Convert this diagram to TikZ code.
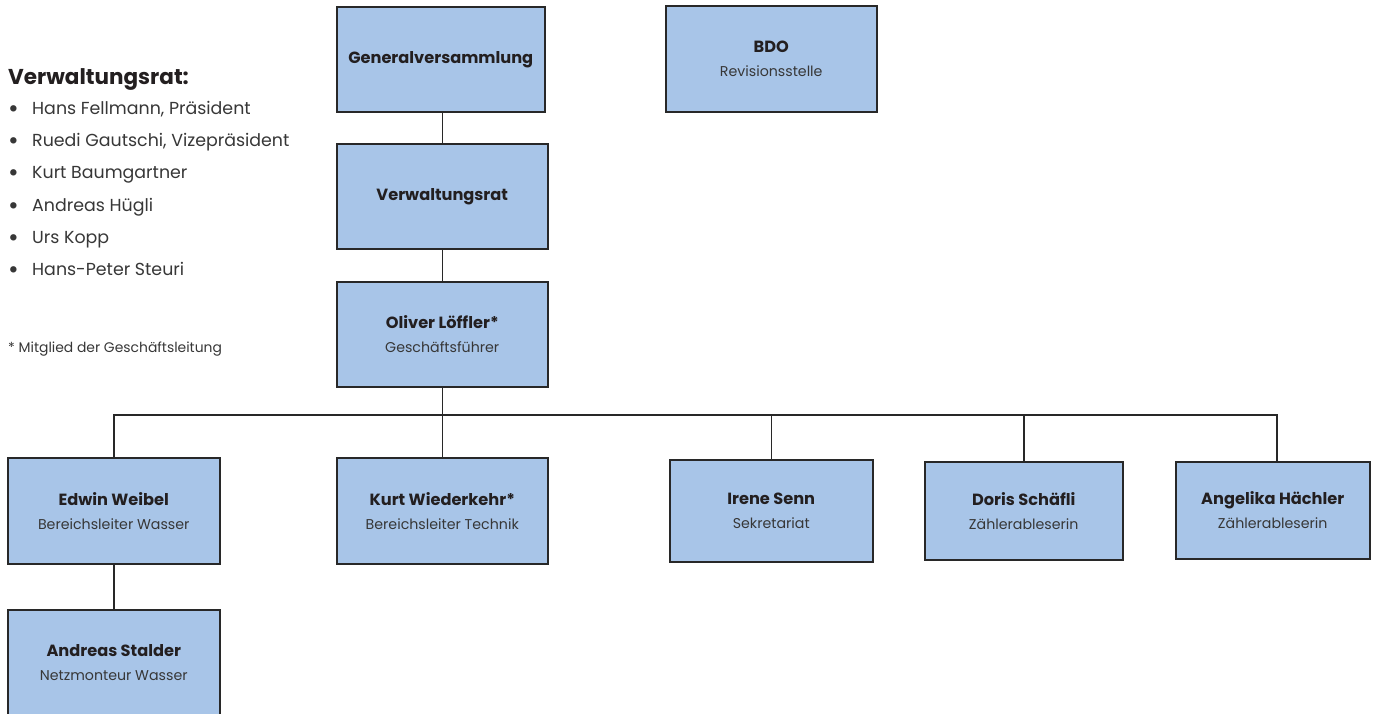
\documentclass[tikz,border=0pt]{standalone}
\usepackage{fontspec}
\setmainfont{Poppins}

\definecolor{boxblue}{RGB}{168,197,232}
\definecolor{boxline}{RGB}{40,40,40}
\definecolor{ink}{RGB}{35,31,32}
\definecolor{greyink}{RGB}{55,55,55}

\newcommand{\boxtitle}[1]{{\bfseries\fontsize{16.2}{24}\selectfont\color{ink}#1}}
\newcommand{\listdot}{\makebox[24pt][l]{\raisebox{-3pt}{\fontsize{26}{20}\selectfont\textbullet}}}

\tikzset{
  orgbox/.style={draw=boxline, fill=boxblue, line width=1.5pt, anchor=north west,
    inner sep=0pt, align=center, text=greyink, font=\fontsize{14.2}{24}\selectfont},
  link/.style={draw=boxline, line width=1.5pt},
  listitem/.style={anchor=base west, inner sep=0pt, text=greyink, font=\fontsize{17.4}{20}\selectfont}
}

\begin{document}
\begin{tikzpicture}[x=1pt, y=-1pt]

    \useasboundingbox (0,0) rectangle (1376,713);

    % 左侧文字
    \node[anchor=base west, inner sep=0pt, text=ink, font=\bfseries\fontsize{21.5}{22}\selectfont] (vrhead) at (8,84) {Verwaltungsrat:};
    \node[listitem] (m1) at (8,114) {\listdot Hans Fellmann, Präsident};
    \node[listitem] (m2) at (8,146) {\listdot Ruedi Gautschi, Vizepräsident};
    \node[listitem] (m3) at (8,178) {\listdot Kurt Baumgartner};
    \node[listitem] (m4) at (8,211) {\listdot Andreas Hügli};
    \node[listitem] (m5) at (8,243) {\listdot Urs Kopp};
    \node[listitem] (m6) at (8,275) {\listdot Hans-Peter Steuri};
    \node[anchor=base west, inner sep=0pt, text=greyink, font=\fontsize{13.9}{14}\selectfont] (note) at (8,352) {* Mitglied der Geschäftsleitung};

    % 上面的方框
    \node[orgbox, minimum width=208, minimum height=105] (gv) at (336,6) {\boxtitle{Generalversammlung}};
    \node[orgbox, minimum width=211, minimum height=106] (bdo) at (665,5) {\boxtitle{BDO}\\ Revisionsstelle};
    \node[orgbox, minimum width=211, minimum height=105] (vr) at (336,143) {\boxtitle{Verwaltungsrat}};
    \node[orgbox, minimum width=211, minimum height=105] (gf) at (336,281) {\boxtitle{Oliver Löffler*}\\ Geschäftsführer};

    % 下面的方框
    \node[orgbox, minimum width=212, minimum height=106] (weibel) at (7,457) {\boxtitle{Edwin Weibel}\\ Bereichsleiter Wasser};
    \node[orgbox, minimum width=211, minimum height=106] (wiederkehr) at (336,457) {\boxtitle{Kurt Wiederkehr*}\\ Bereichsleiter Technik};
    \node[orgbox, minimum width=203, minimum height=102] (senn) at (669,459) {\boxtitle{Irene Senn}\\ Sekretariat};
    \node[orgbox, minimum width=198, minimum height=98] (schaefli) at (924,461) {\boxtitle{Doris Schäfli}\\ Zählerableserin};
    \node[orgbox, minimum width=194, minimum height=97] (haechler) at (1175,461) {\boxtitle{Angelika Hächler}\\ Zählerableserin};
    \node[orgbox, minimum width=212, minimum height=106] (stalder) at (7,609) {\boxtitle{Andreas Stalder}\\ Netzmonteur Wasser};

    % 连线
    \coordinate (bus) at (441.5,415);
    \draw[link] (vr.north) -- (vr.north |- gv.south);
    \draw[link] (vr) -- (gf);
    \draw[link] (gf) -- (wiederkehr);
    \draw[link] (weibel.north) |- (bus) -| ([xshift=4pt]haechler.north);
    \draw[link] (bus -| senn.north) -- (senn.north);
    \draw[link] (bus -| schaefli.north) -- (schaefli.north);
    \draw[link] (weibel) -- (stalder);

  \end{tikzpicture}
\end{document}
